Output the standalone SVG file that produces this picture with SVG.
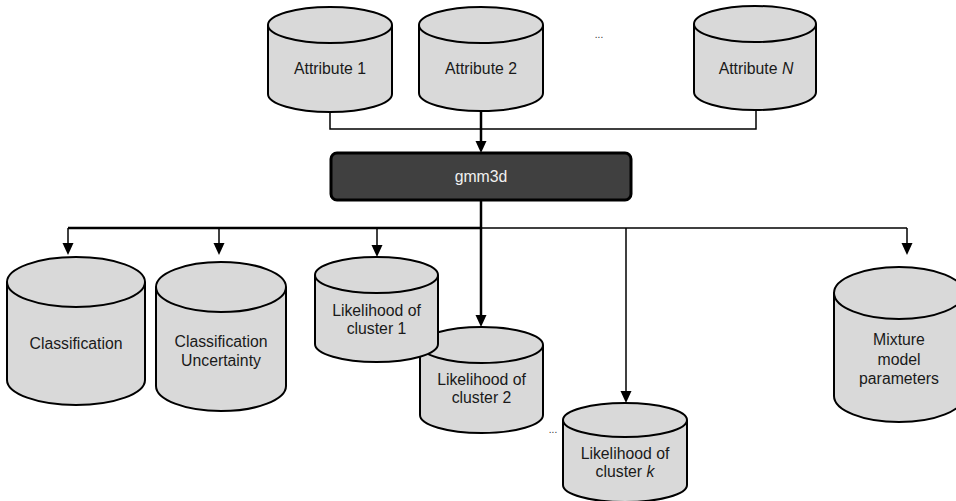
<svg xmlns="http://www.w3.org/2000/svg" width="956" height="501" viewBox="0 0 956 501">
<defs>
<marker id="arr" markerUnits="userSpaceOnUse" markerWidth="12" markerHeight="12" refX="8" refY="6" orient="auto" viewBox="0 0 12 12">
<path d="M0,0.5 L12,6 L0,11.5 Z" fill="#000"/>
</marker>
<style>
.cyl{fill:#d9d9d9;stroke:#000;stroke-width:2}
.lbl{font-family:"Liberation Sans",Arial,sans-serif;font-size:15.8px;fill:#1a1a1a;text-anchor:middle}
.dots{font-family:"Liberation Sans",Arial,sans-serif;font-size:10px;fill:#333;text-anchor:middle}
.ln{fill:none;stroke:#000;stroke-width:1.5}
.thk{fill:none;stroke:#000;stroke-width:2.5}
</style>
</defs>
<rect width="956" height="501" fill="#fff"/>

<g id="connectors">
<polyline class="ln" points="330,103 330,129 756,129 756,103"/>
<line class="thk" x1="481" y1="103" x2="481" y2="149" marker-end="url(#arr)"/>
<line class="thk" x1="481" y1="200" x2="481" y2="228"/>
<line class="thk" x1="68" y1="228" x2="481" y2="228"/>
<line class="ln" x1="481" y1="228" x2="907" y2="228"/>
<line class="ln" x1="68" y1="228" x2="68" y2="251" marker-end="url(#arr)"/>
<line class="ln" x1="219" y1="228" x2="219" y2="251" marker-end="url(#arr)"/>
<line class="ln" x1="377" y1="228" x2="377" y2="253" marker-end="url(#arr)"/>
<line class="thk" x1="481" y1="228" x2="481" y2="323" marker-end="url(#arr)"/>
<line class="ln" x1="626" y1="228" x2="626" y2="399" marker-end="url(#arr)"/>
<line class="ln" x1="907" y1="228" x2="907" y2="251" marker-end="url(#arr)"/>
</g>

<g id="attr1">
<path class="cyl" d="M268,25 L268,94 A62,18 0 0 0 392,94 L392,25 A62,18 0 0 0 268,25 Z"/>
<path class="cyl" d="M268,25 A62,18 0 0 0 392,25" fill="none"/>
<text class="lbl" x="330" y="74">Attribute 1</text>
</g>
<g id="attr2">
<path class="cyl" d="M419,25 L419,93 A62,18 0 0 0 543,93 L543,25 A62,18 0 0 0 419,25 Z"/>
<path class="cyl" d="M419,25 A62,18 0 0 0 543,25" fill="none"/>
<text class="lbl" x="481" y="74">Attribute 2</text>
</g>
<text class="dots" x="599" y="38">...</text>
<g id="attrN">
<path class="cyl" d="M694,24 L694,92 A61,18 0 0 0 816,92 L816,24 A61,18 0 0 0 694,24 Z"/>
<path class="cyl" d="M694,24 A61,18 0 0 0 816,24" fill="none"/>
<text class="lbl" x="756" y="74">Attribute <tspan font-style="italic">N</tspan></text>
</g>

<g id="gmm3d">
<rect x="331" y="153" width="300" height="47" rx="6" fill="#404040" stroke="#000" stroke-width="3"/>
<text class="lbl" x="481" y="182" style="fill:#f0f0f0">gmm3d</text>
</g>

<g id="classification">
<path class="cyl" d="M7,282 L7,380 A69,25 0 0 0 145,380 L145,282 A69,25 0 0 0 7,282 Z"/>
<path class="cyl" d="M7,282 A69,25 0 0 0 145,282" fill="none"/>
<text class="lbl" x="76" y="349">Classification</text>
</g>
<g id="uncertainty">
<path class="cyl" d="M156,287 L156,386 A65,25 0 0 0 286,386 L286,287 A65,25 0 0 0 156,287 Z"/>
<path class="cyl" d="M156,287 A65,25 0 0 0 286,287" fill="none"/>
<text class="lbl" x="221" y="347">Classification</text>
<text class="lbl" x="221" y="366">Uncertainty</text>
</g>
<g id="lik2">
<path class="cyl" d="M420,345 L420,415 A61.5,18 0 0 0 543,415 L543,345 A61.5,18 0 0 0 420,345 Z"/>
<path class="cyl" d="M420,345 A61.5,18 0 0 0 543,345" fill="none"/>
<text class="lbl" x="481.5" y="385">Likelihood of</text>
<text class="lbl" x="481.5" y="403">cluster 2</text>
</g>
<g id="lik1">
<path class="cyl" d="M315,275 L315,344 A61.5,18 0 0 0 438,344 L438,275 A61.5,18 0 0 0 315,275 Z"/>
<path class="cyl" d="M315,275 A61.5,18 0 0 0 438,275" fill="none"/>
<text class="lbl" x="376.5" y="316">Likelihood of</text>
<text class="lbl" x="376.5" y="334">cluster 1</text>
</g>
<text class="dots" x="553" y="433">...</text>
<g id="likk">
<path class="cyl" d="M563,420 L563,485 A62,17 0 0 0 687,485 L687,420 A62,17 0 0 0 563,420 Z"/>
<path class="cyl" d="M563,420 A62,17 0 0 0 687,420" fill="none"/>
<text class="lbl" x="625" y="459">Likelihood of</text>
<text class="lbl" x="625" y="477">cluster <tspan font-style="italic">k</tspan></text>
</g>
<g id="mixture">
<path class="cyl" d="M834,293 L834,396 A65,26 0 0 0 964,396 L964,293 A65,26 0 0 0 834,293 Z"/>
<path class="cyl" d="M834,293 A65,26 0 0 0 964,293" fill="none"/>
<text class="lbl" x="899" y="345">Mixture</text>
<text class="lbl" x="899" y="365">model</text>
<text class="lbl" x="899" y="384">parameters</text>
</g>
</svg>
